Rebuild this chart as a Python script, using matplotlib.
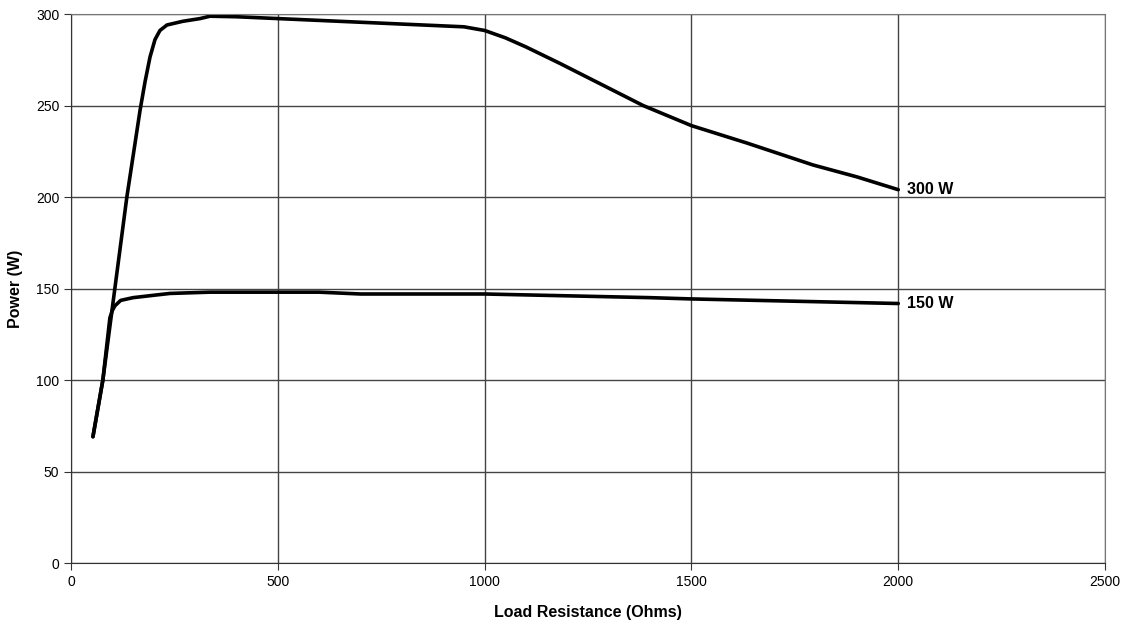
import matplotlib
import numpy as np
import matplotlib.pyplot as plt

matplotlib.use('Agg')
plt.rcParams['font.family'] = ['Liberation Sans', 'DejaVu Sans']

# 300 W curve
r300 = [53, 77, 106, 135, 167, 179, 191, 203, 215, 232, 270, 312, 336, 400, 500, 600, 700, 800, 900, 950, 1000,
        1050, 1100, 1182, 1300, 1383, 1500, 1634, 1794, 1900, 2000]
p300 = [69, 100, 150, 200, 247.5, 263, 276.5, 286, 291, 294, 296, 297.5, 298.8, 298.5, 297.5, 296.5, 295.5, 294.5,
        293.5, 293, 291, 287, 282, 273, 259.5, 250, 239, 229.5, 217.5, 211, 204]

# 150 W curve
r150 = [53, 77, 94, 100, 106, 120, 150, 200, 239, 336, 450, 600, 700, 800, 900, 1000, 1100, 1200, 1300, 1400, 1500,
        1600, 1700, 1800, 1900, 2000]
p150 = [69, 100, 134, 138, 140.5, 143.5, 145, 146.3, 147.3, 148, 148, 148, 147, 147, 147, 147, 146.5, 146, 145.5,
        145, 144.3, 143.8, 143.3, 142.8, 142.3, 141.8]

fig = plt.figure(figsize=(11.29, 6.28), dpi=100)
ax = fig.add_axes([0.0629, 0.1035, 0.9159, 0.8742])

ax.plot(r300, p300, color='black', lw=2.6, solid_capstyle='round', solid_joinstyle='round')
ax.plot(r150, p150, color='black', lw=2.6, solid_capstyle='round', solid_joinstyle='round')

ax.text(r300[-1] + 22, p300[-1], '300 W', fontsize=11.5, fontweight='bold', va='center')
ax.text(r150[-1] + 22, p150[-1], '150 W', fontsize=11.5, fontweight='bold', va='center')

ax.set_xlim(0, 2500)
ax.set_ylim(0, 300)
ax.set_xticks(np.arange(0, 2501, 500))
ax.set_yticks(np.arange(0, 301, 50))
ax.grid(True, color='#444444', lw=1)
ax.set_axisbelow(True)
for s in ['top', 'right']:
    ax.spines[s].set_color('#777777')
for s in ['left', 'bottom']:
    ax.spines[s].set_color('#333333')
ax.tick_params(direction='out', length=5, labelsize=10, colors='#333333', labelcolor='black')

ax.set_xlabel('Load Resistance (Ohms)', fontsize=11.5, fontweight='bold', labelpad=12)
ax.set_ylabel('Power (W)', fontsize=11.5, fontweight='bold', labelpad=9)

fig.savefig('out.png', dpi=100)
